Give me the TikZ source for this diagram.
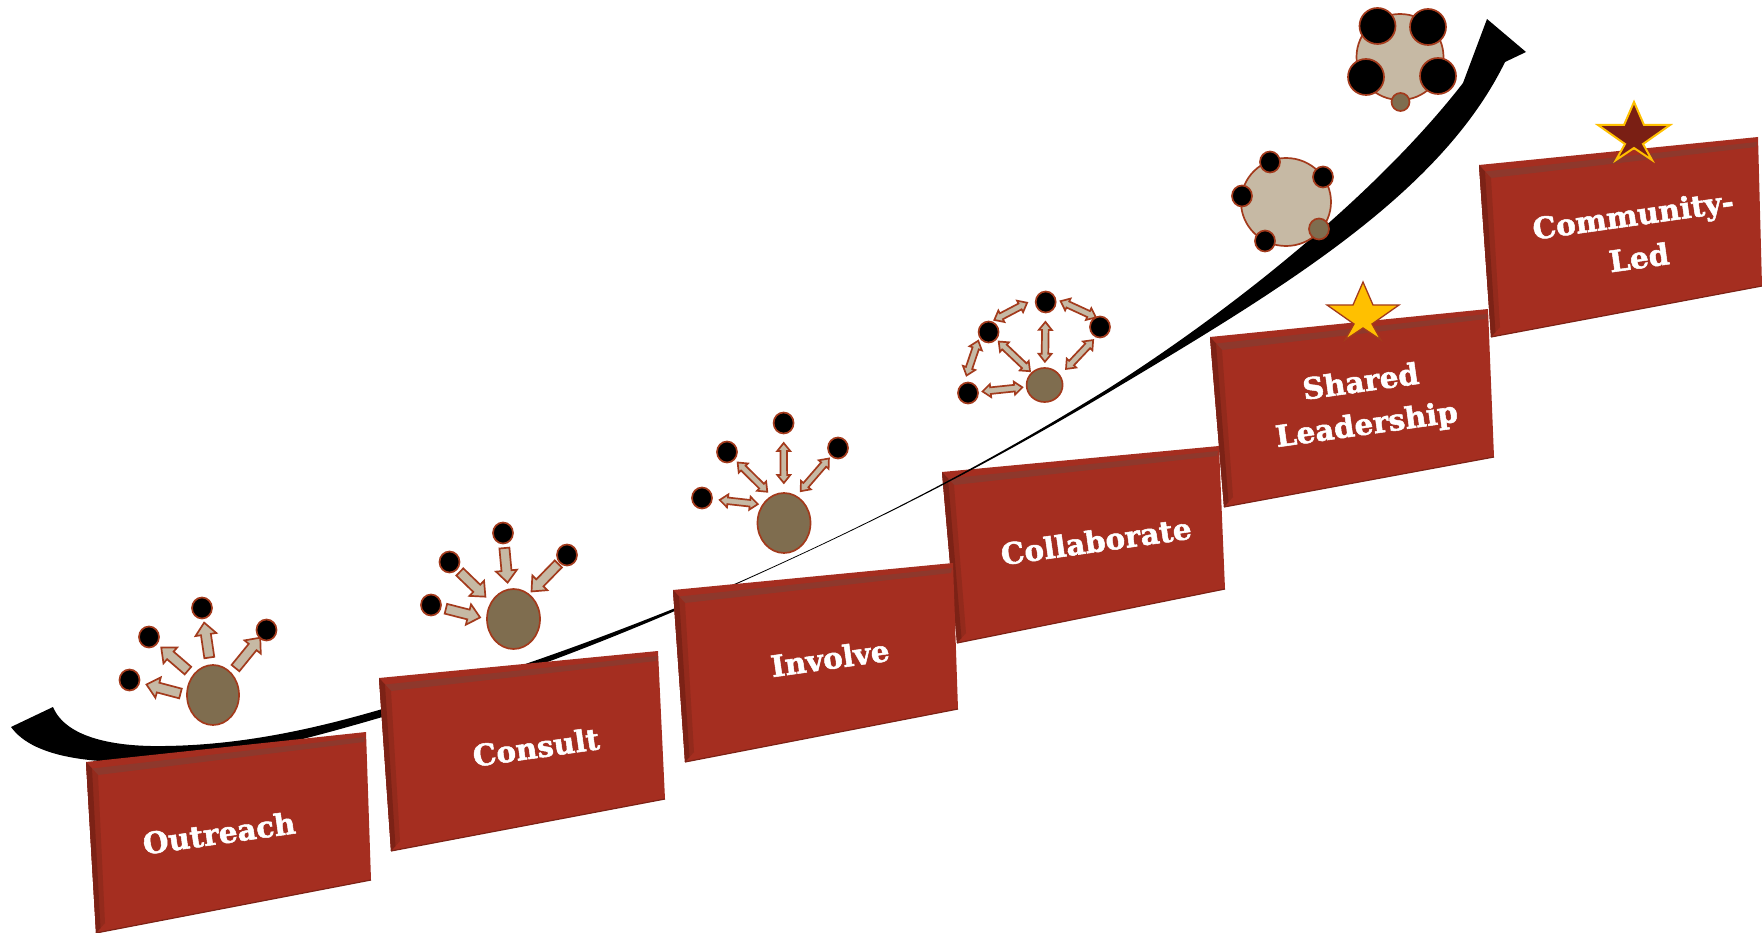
\documentclass[tikz,border=0pt]{standalone}
\usepackage{fontspec}
\setmainfont{DejaVu Serif}[BoldFeatures={FakeBold=1.7}]
\usetikzlibrary{calc,shapes.geometric}
\definecolor{brickred}{HTML}{A52E20}
\definecolor{brickdark}{HTML}{7C2216}
\definecolor{brickmid}{HTML}{932A1C}
\definecolor{bricktop}{HTML}{8E382C}
\definecolor{rust}{HTML}{A33A1C}
\definecolor{hubbrown}{HTML}{7F6D4F}
\definecolor{sand}{HTML}{C6B9A4}
\definecolor{gold}{HTML}{FFC000}
\definecolor{darkstar}{HTML}{7A1F14}
\tikzset{
	dotblk/.style={ellipse, draw=rust, fill=black, line width=1.7pt, inner sep=0pt, minimum width=20pt, minimum height=21pt},
	dotbig/.style={dotblk, minimum width=36pt, minimum height=36pt},
	hub/.style={ellipse, draw=rust, fill=hubbrown, line width=1.7pt, inner sep=0pt},
	disc/.style={ellipse, draw=rust, fill=sand, line width=1.7pt, inner sep=0pt},
	blockarrow/.style={draw=rust, fill=sand, line width=1.7pt, line join=miter},
	steptext/.style={text=white, align=center, rotate=8, font=\fontsize{29.5}{43}\selectfont\bfseries},
}
\def\brick(#1)(#2)(#3)(#4){
	\coordinate (a) at (#1); \coordinate (b) at (#2); \coordinate (c) at (#3); \coordinate (d) at (#4);
	\coordinate (ia) at ($(a)+(12,13)$); \coordinate (ib) at ($(b)+(-2,10)$);
	\coordinate (ic) at ($(c)+(-1,-1)$); \coordinate (id) at ($(d)+(9,-10)$);
	\fill[brickred] (a) -- (b) -- (c) -- (d) -- cycle;
	\fill[bricktop] ($(a)!0.5!(ia)$) -- ($(b)!0.5!(ib)$) -- (ib) -- (ia) -- cycle;
	\fill[brickmid] (a) -- (ia) -- (id) -- (d) -- cycle;
	\fill[brickdark] (a) -- ($(a)!0.5!(ia)$) -- ($(d)!0.5!(id)$) -- (d) -- cycle;
	\draw[brickdark, line width=1.2pt] (d) -- (c);
}
\def\onearrow(#1)(#2)(#3:#4){
	\coordinate (s) at ($(#1)!#3!(#2)$); \coordinate (t) at ($(#1)!#4!(#2)$);
	\coordinate (h) at ($(t)!12pt!(s)$);
	\draw[blockarrow] ($(s)!5pt!90:(t)$) -- ($(h)!5pt!90:(t)$) -- ($(h)!10.5pt!90:(t)$) -- (t)
		-- ($(h)!10.5pt!-90:(t)$) -- ($(h)!5pt!-90:(t)$) -- ($(s)!5pt!-90:(t)$) -- cycle;
}
\def\twoarrow(#1)(#2)(#3:#4:#5){
	\coordinate (u) at ($(#1)!#3!(#2)$); \coordinate (v) at ($(#1)!#4!(#2)$);
	\coordinate (s) at ($(u)!#5!90:(v)$); \coordinate (t) at ($(v)!#5!-90:(u)$);
	\coordinate (g) at ($(s)!8pt!(t)$); \coordinate (h) at ($(t)!8pt!(s)$);
	\draw[blockarrow] (s) -- ($(g)!6.5pt!90:(t)$) -- ($(g)!3.3pt!90:(t)$) -- ($(h)!3.3pt!90:(t)$) -- ($(h)!6.5pt!90:(t)$) -- (t)
		-- ($(h)!6.5pt!-90:(t)$) -- ($(h)!3.3pt!-90:(t)$) -- ($(g)!3.3pt!-90:(t)$) -- ($(g)!6.5pt!-90:(t)$) -- cycle;
}
\def\bigstar[#1](#2){
	\begin{scope}[shift={(#2)}]
		\draw[#1] (0,0) -- (10,23) -- (36,23) -- (9,42) -- (18,58) -- (0,46) -- (-18,58) -- (-9,42) -- (-36,23) -- (-10,23) -- cycle;
	\end{scope}
}

\begin{document}
\begin{tikzpicture}[x=1pt, y=-1pt]
	\useasboundingbox (0,0) rectangle (1762,933);
	
	%%%%% STEPS AND CURVE %%%%%
	\brick(942,472)(1219,446)(1225,589)(957,643)
	
	\fill[black] (53,707) .. controls (66,738) and (115,747) .. (165,746)
		.. controls (240,745) and (310,730) .. (379,710)
		.. controls (500,675) and (600,640) .. (739,582)
		.. controls (840,537) and (960,480) .. (1106,390)
		.. controls (1240,305) and (1380,190) .. (1463,83)
		-- (1487,19) -- (1526,52) -- (1505,62)
		.. controls (1440,195) and (1280,290) .. (1106,394)
		.. controls (960,481) and (840,537.5) .. (739,583)
		.. controls (600,645) and (500,682) .. (379,718)
		.. controls (310,738) and (230,760) .. (165,762)
		.. controls (100,764) and (35,760) .. (11,727) -- cycle;
	
	\brick(86,762)(366,732)(371,880)(96,933)
	\brick(379,678)(658,651)(665,799)(391,851)
	\brick(673,590)(953,563)(958,709)(685,762)
	\brick(1479,165)(1758,137)(1762,286)(1491,337)
	\brick(1210,337)(1488,309)(1494,457)(1224,507)
	
	\node[steptext] (outreach) at (219,833) {Outreach};
	\node[steptext] (consult) at (536,747) {Consult};
	\node[steptext] (involve) at (830,658) {Involve};
	\node[steptext] (collaborate) at (1096,541) {Collaborate};
	\node[steptext] (shared) at (1364,405) {Shared\\Leadership};
	\node[steptext] (community) at (1636,236) {Community-\\Led};
	
	%%%%% OUTREACH %%%%%
	\node[hub, minimum width=52pt, minimum height=60pt] (ohub) at (213,695) {};
	\node[dotblk] (oa) at (129.5,680) {};
	\node[dotblk] (ob) at (149,637) {};
	\node[dotblk] (oc) at (202,608) {};
	\node[dotblk] (od) at (266.5,630) {};
	\onearrow(ohub.180)(oa)(0.10:0.70)
	\onearrow(ohub.135)(ob)(0.11:0.72)
	\onearrow(ohub.95)(oc)(0.12:0.74)
	\onearrow(ohub.50)(od)(0.11:0.82)
	
	%%%%% CONSULT %%%%%
	\node[hub, minimum width=53pt, minimum height=60pt] (chub) at (513.5,619) {};
	\node[dotblk] (ca) at (431,605) {};
	\node[dotblk] (cb) at (449.5,562) {};
	\node[dotblk] (cc) at (503,533) {};
	\node[dotblk] (cd) at (567,555) {};
	\onearrow(ca)(chub.180)(0.27:0.89)
	\onearrow(cb)(chub.143)(0.25:0.87)
	\onearrow(cc)(chub.100)(0.27:0.89)
	\onearrow(cd)(chub.58)(0.23:0.94)
	
	%%%%% INVOLVE %%%%%
	\node[hub, minimum width=53pt, minimum height=60pt] (ihub) at (784,523) {};
	\node[dotblk] (ia1) at (702,498) {};
	\node[dotblk] (ib1) at (727,452) {};
	\node[dotblk] (ic1) at (783.6,423) {};
	\node[dotblk] (id1) at (838,448) {};
	\twoarrow(ia1)(ihub.140)(0.295:0.93:0pt)
	\twoarrow(ib1)(ihub.115)(0.24:0.91:0pt)
	\twoarrow(ic1)(ihub)(0.20:0.60:0pt)
	\twoarrow(id1)(ihub.65)(0.22:0.905:0pt)
	
	%%%%% COLLABORATE %%%%%
	\node[hub, minimum width=36pt, minimum height=34pt] (khub) at (1044.6,385) {};
	\node[dotblk] (ka) at (968,393) {};
	\node[dotblk] (kb) at (988.6,332) {};
	\node[dotblk] (kc) at (1045.7,302) {};
	\node[dotblk] (kd) at (1100,327) {};
	\twoarrow(ka)(khub)(0.19:0.71:0pt)
	\twoarrow(ka)(kb)(0.25:0.82:7pt)
	\twoarrow(kb)(kc)(0.165:0.74:8pt)
	\twoarrow(kc)(kd)(0.22:0.87:7pt)
	\twoarrow(kb)(khub)(0.18:0.74:0pt)
	\twoarrow(kc)(khub)(0.24:0.72:0pt)
	\twoarrow(kd)(khub.45)(0.23:0.87:4pt)
	
	%%%%% SHARED %%%%%
	\node[disc, minimum width=90pt, minimum height=88pt] (sdisc) at (1286,202) {};
	\node[dotblk] (sa) at (1242,196) {};
	\node[dotblk] (sb) at (1270,162) {};
	\node[dotblk] (sc) at (1323,177) {};
	\node[dotblk] (sd) at (1265,241) {};
	\node[hub, minimum width=20pt, minimum height=21pt] (shub) at (1319,229) {};
	\bigstar[fill=gold, draw=rust, line width=1.3pt](1363,282)
	
	%%%%% COMMUNITY %%%%%
	\node[disc, minimum width=87pt, minimum height=86pt] (mdisc) at (1400,57) {};
	\node[dotbig] (ma) at (1377.5,26) {};
	\node[dotbig] (mb) at (1428,27) {};
	\node[dotbig] (mc) at (1366,77) {};
	\node[dotbig] (md) at (1438,76) {};
	\node[hub, minimum width=18pt, minimum height=18pt] (mhub) at (1400.5,102) {};
	\bigstar[fill=darkstar, draw=gold, line width=2pt](1634,102)
	
\end{tikzpicture}
\end{document}
